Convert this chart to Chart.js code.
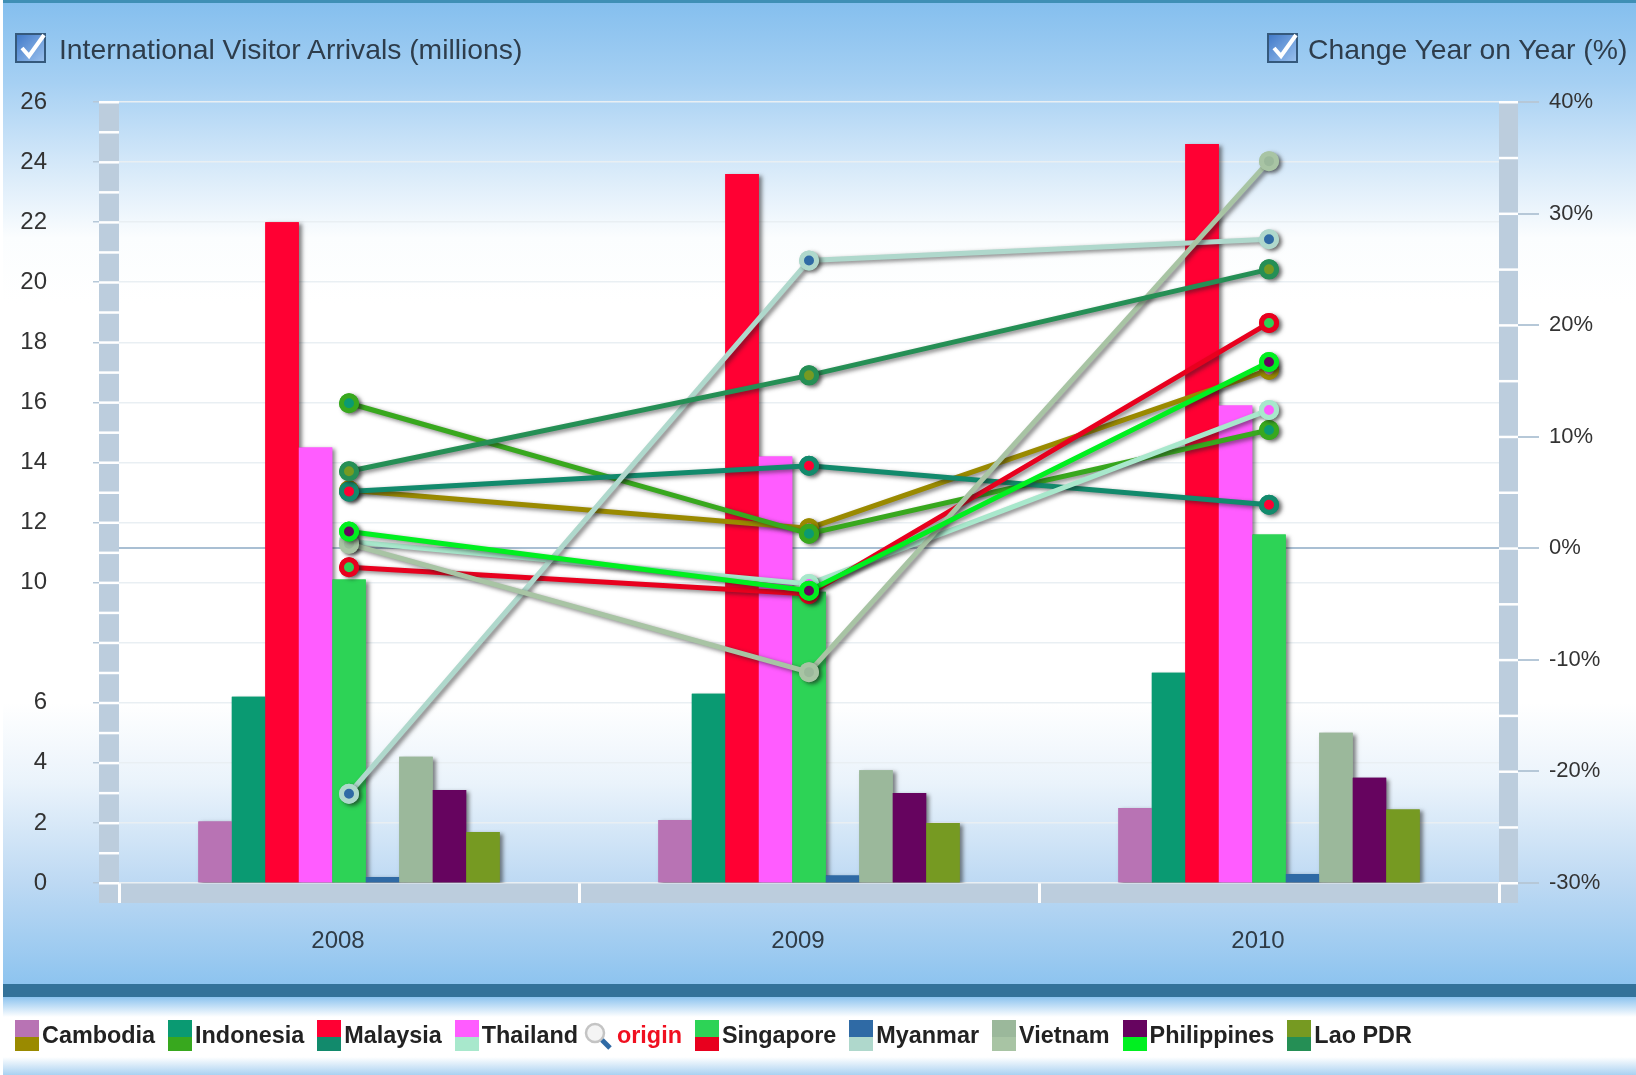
<!DOCTYPE html>
<html>
<head>
<meta charset="utf-8">
<title>International Visitor Arrivals</title>
<script src="https://cdn.jsdelivr.net/npm/chart.js@4"></script>
<style>
  html, body { margin: 0; padding: 0; background: #fff; }
  #page { position: relative; width: 1636px; height: 1075px; overflow: hidden; font-family: "Liberation Sans", Arial, sans-serif; }
  #panel { position: absolute; left: 3px; right: 0; top: 0; height: 984px; border-top: 3px solid #3f8fb5; box-sizing: border-box;
    background: linear-gradient(to bottom, #85bfee 0, #a6d0f3 80px, #d4e8f9 160px, #fbfdfe 235px, #fff 300px, #fff 700px, #eaf3fb 780px, #bdd9f3 880px, #8cc3ef 984px); }
  #strip { position: absolute; left: 3px; right: 0; top: 984px; height: 13px; background: #33729a; }
  #foot { position: absolute; left: 3px; right: 0; top: 997px; height: 78px;
    background: linear-gradient(to bottom, #8cc3ef 0, #fff 20px, #fff 60px, #a9d1f1 78px); }
  canvas { position: absolute; left: 0; top: 0; filter: blur(0.6px); }
  .head { position: absolute; top: 31px; height: 36px; line-height: 36px; font-size: 28.3px; color: #2e3d4c; white-space: nowrap; filter: blur(0.4px); }
  .head svg { position: absolute; top: 2px; left: 0; }
  .head span { position: absolute; top: 0; }
  #legend { position: absolute; left: 15px; top: 1020px; display: flex; height: 31px; align-items: center; font: bold 23.4px "Liberation Sans", Arial, sans-serif; color: #222; filter: blur(0.4px); white-space: nowrap; }
  .item { display: flex; align-items: center; margin-right: 13px; }
  .swatch { width: 24px; height: 31px; margin-right: 3px; }
  .origin { color: #f01020; margin-left: -7px; margin-right: 13px; display: flex; align-items: center; }
</style>
</head>
<body>
<div id="page">
  <div id="panel"></div>
  <div id="strip"></div>
  <div id="foot"></div>
  <canvas id="chart" width="1636" height="984"></canvas>
  <div class="head" style="left:15px;width:560px">
    <svg width="32" height="30" viewBox="0 0 32 30"><defs><linearGradient id="cb" x1="0" y1="0" x2="1" y2="1"><stop offset="0" stop-color="#3f78c8"/><stop offset="1" stop-color="#9cc2ee"/></linearGradient></defs><rect x="1" y="1" width="29" height="28" fill="url(#cb)" stroke="#35597c" stroke-width="2"/><path d="M7 15 L14 23 L29 2" fill="none" stroke="#fff" stroke-width="4"/></svg>
    <span style="left:44px">International Visitor Arrivals (millions)</span>
  </div>
  <div class="head" style="left:1267px;width:369px">
    <svg width="32" height="30" viewBox="0 0 32 30"><rect x="1" y="1" width="29" height="28" fill="url(#cb)" stroke="#35597c" stroke-width="2"/><path d="M7 15 L14 23 L29 2" fill="none" stroke="#fff" stroke-width="4"/></svg>
    <span style="left:41px">Change Year on Year (%)</span>
  </div>
  <div id="legend"></div>
</div>
<script>
const years = ["2008", "2009", "2010"];
const countries = ["Cambodia", "Indonesia", "Malaysia", "Thailand", "Singapore", "Myanmar", "Vietnam", "Philippines", "Lao PDR"];

// arrivals in millions, one list per country
const cambodiaArrivals = [2.05, 2.1, 2.5];
const indonesiaArrivals = [6.2, 6.3, 7.0];
const malaysiaArrivals = [22.0, 23.6, 24.6];
const thailandArrivals = [14.5, 14.2, 15.9];
const singaporeArrivals = [10.1, 9.7, 11.6];
const myanmarArrivals = [0.2, 0.25, 0.3];
const vietnamArrivals = [4.2, 3.75, 5.0];
const philippinesArrivals = [3.1, 3.0, 3.5];
const laoArrivals = [1.7, 2.0, 2.45];

// change year on year in percent
const cambodiaChange = [5.2, 1.8, 16.0];
const indonesiaChange = [13.0, 1.3, 10.6];
const malaysiaChange = [5.1, 7.4, 3.9];
const thailandChange = [0.6, -3.2, 12.4];
const singaporeChange = [-1.7, -4.1, 20.2];
const myanmarChange = [-22.0, 25.8, 27.7];
const vietnamChange = [0.4, -11.1, 34.7];
const philippinesChange = [1.5, -3.8, 16.7];
const laoChange = [6.9, 15.5, 25.0];

const leftTickLabels = ["0", "2", "4", "6", "", "10", "12", "14", "16", "18", "20", "22", "24", "26"];
const rightTickLabels = ["-30%", "-20%", "-10%", "0%", "10%", "20%", "30%", "40%"];

const barColors = ["#b873b4", "#0a9a72", "#ff0033", "#ff5cff", "#2dd356", "#2f6aa5", "#9bb89b", "#66045f", "#769a22"];
const lineColors = ["#9a8a00", "#38a81e", "#128a6c", "#a8e8cc", "#e8001e", "#afd8cc", "#a8c4a4", "#00f020", "#258f55"];

const arrivals = [cambodiaArrivals, indonesiaArrivals, malaysiaArrivals, thailandArrivals, singaporeArrivals, myanmarArrivals, vietnamArrivals, philippinesArrivals, laoArrivals];
const changes = [cambodiaChange, indonesiaChange, malaysiaChange, thailandChange, singaporeChange, myanmarChange, vietnamChange, philippinesChange, laoChange];

const bandColor = "#bccddd";

// grey bands round the plot with their little white marks, shadows under the marks
const framePlugin = {
    id: "frame",
    beforeDraw(chart) {
        const ctx = chart.ctx, a = chart.chartArea;
        ctx.save();
        ctx.fillStyle = bandColor;
        ctx.fillRect(a.left - 20, a.top, 20, a.bottom - a.top + 20);
        ctx.fillRect(a.right, a.top, 19, a.bottom - a.top + 20);
        ctx.fillRect(a.left - 20, a.bottom, a.right - a.left + 39, 20);
        ctx.restore();
    },
    beforeDatasetsDraw(chart) {
        const ctx = chart.ctx, a = chart.chartArea;
        ctx.save();
        ctx.fillStyle = "#ffffff";
        for (let v = 0; v <= 26; v++) {
            ctx.fillRect(a.left - 20, chart.scales.y.getPixelForValue(v) - 1, 20, 2.5);
        }
        for (let v = -30; v <= 40; v += 5) {
            ctx.fillRect(a.right, chart.scales.y1.getPixelForValue(v) - 1, 19, 2.5);
        }
        ctx.restore();
    },
    beforeDatasetDraw(chart) {
        const ctx = chart.ctx;
        ctx.save();
        ctx.shadowColor = "rgba(30,30,30,0.55)";
        ctx.shadowOffsetX = 3;
        ctx.shadowOffsetY = 2;
        ctx.shadowBlur = 4;
    },
    afterDatasetDraw(chart, args) {
        const ctx = chart.ctx;
        ctx.restore();
        if (args.meta.type === "line") {
            // points again without shadow, the ring's shadow would dirty the centre
            args.meta.data.forEach(p => p.draw(ctx, chart.chartArea));
        } else if (args.meta.label === countries[0]) {
            // last bar drawn: paint all bars clean so shadows only show on the background
            chart.getSortedVisibleDatasetMetas()
                .filter(m => m.type === "bar")
                .forEach(m => m.controller.draw());
        }
    }
};

const barSets = countries.map((name, i) => ({
    type: "bar",
    label: name,
    data: arrivals[i],
    backgroundColor: barColors[i],
    yAxisID: "y",
    order: 100 + i,
    categoryPercentage: 0.655,
    barPercentage: 1
}));

const lineSets = countries.map((name, i) => ({
    type: "line",
    label: name + " change",
    data: changes[i],
    borderColor: lineColors[i],
    borderWidth: 5,
    tension: 0,
    fill: false,
    pointRadius: 7.5,
    pointBorderWidth: 5,
    pointBorderColor: lineColors[i],
    pointBackgroundColor: barColors[i],
    yAxisID: "y1",
    order: 20 - i
}));

new Chart(document.getElementById("chart").getContext("2d"), {
    type: "bar",
    data: { labels: years, datasets: lineSets.concat(barSets) },
    plugins: [framePlugin],
    options: {
        responsive: false,
        animation: false,
        layout: { padding: { top: 102, left: 0, right: 0, bottom: 0 } },
        plugins: { legend: { display: false }, title: { display: false }, tooltip: { enabled: false } },
        scales: {
            x: {
                offset: true,
                border: { display: false },
                grid: { offset: true, drawOnChartArea: false, tickColor: "#ffffff", tickWidth: 3, tickLength: 20 },
                ticks: { color: "#2f3b46", font: { family: "Liberation Sans", size: 24 }, padding: 24, labelOffset: -11, maxRotation: 0 },
                afterFit(scale) { scale.height = 101; }
            },
            y: {
                position: "left",
                min: 0,
                max: 26,
                border: { display: false },
                grid: { color: "#e9eff3", lineWidth: 1.5, tickColor: "#b6c8d8", tickLength: 26 },
                ticks: {
                    stepSize: 2,
                    padding: 46,
                    color: "#333333",
                    font: { family: "Liberation Sans", size: 24 },
                    callback: (value, index) => leftTickLabels[index]
                },
                afterFit(scale) { scale.width = 119; }
            },
            y1: {
                position: "right",
                min: -30,
                max: 40,
                border: { display: false },
                grid: {
                    color: ctx => ctx.tick.value === 0 ? "#a9bfd3" : "rgba(0,0,0,0)",
                    lineWidth: 2,
                    tickColor: "#b6c8d8",
                    tickLength: 40
                },
                ticks: {
                    stepSize: 10,
                    padding: 10,
                    color: "#333333",
                    font: { family: "Liberation Sans", size: 22 },
                    callback: (value, index) => rightTickLabels[index]
                },
                afterFit(scale) { scale.width = 137; }
            }
        }
    }
});

// legend strip under the chart
const legend = document.getElementById("legend");
countries.forEach((name, i) => {
    if (name === "Singapore") {
        const o = document.createElement("div");
        o.className = "origin";
        o.innerHTML = '<svg width="29" height="30" viewBox="0 0 29 30" style="margin-right:4px"><circle cx="11" cy="12" r="9" fill="#f4f4f4" stroke="#c4c4c4" stroke-width="2.5"/><path d="M18 19 L26 27" stroke="#2f6aa5" stroke-width="5"/></svg>origin';
        legend.appendChild(o);
    }
    const item = document.createElement("div");
    item.className = "item";
    const swatch = document.createElement("div");
    swatch.className = "swatch";
    swatch.style.background = `linear-gradient(to bottom, ${barColors[i]} 55%, ${lineColors[i]} 55%)`;
    item.appendChild(swatch);
    item.appendChild(document.createTextNode(name));
    legend.appendChild(item);
});
</script>
</body>
</html>
